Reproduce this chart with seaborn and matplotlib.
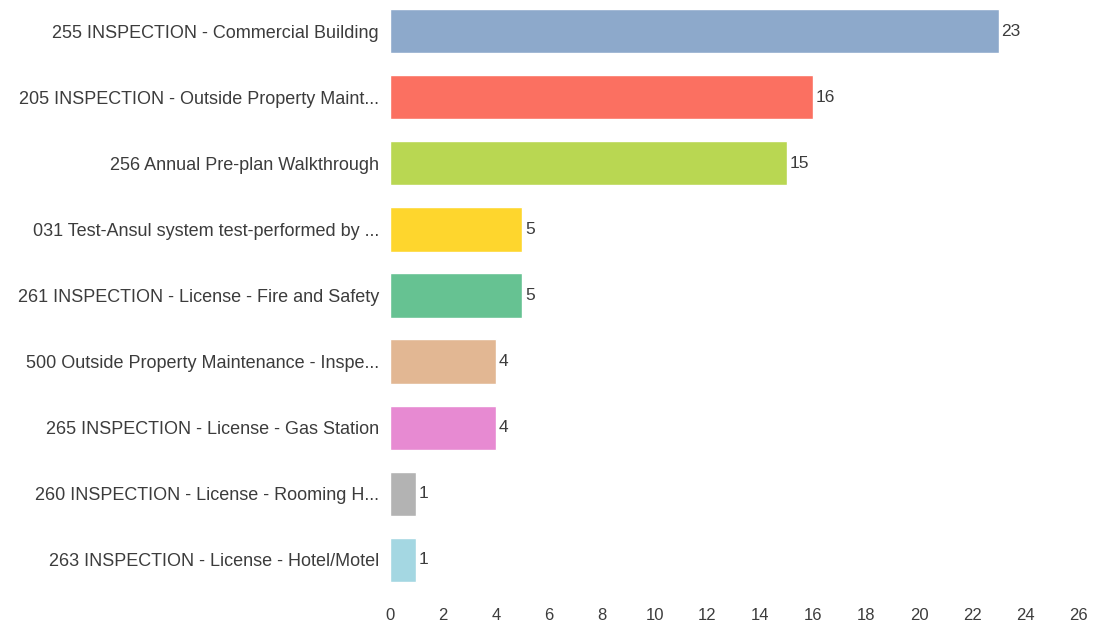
import matplotlib
matplotlib.use("Agg")
import matplotlib.pyplot as plt
import pandas as pd
import seaborn as sns

categories = [
    "255 INSPECTION - Commercial Building",
    "205 INSPECTION - Outside Property Maint...",
    "256 Annual Pre-plan Walkthrough",
    "031 Test-Ansul system test-performed by ...",
    "261 INSPECTION - License - Fire and Safety",
    "500 Outside Property Maintenance - Inspe...",
    "265 INSPECTION - License - Gas Station",
    "260 INSPECTION - License - Rooming H...",
    "263 INSPECTION - License - Hotel/Motel",
]
counts = [23, 16, 15, 5, 5, 4, 4, 1, 1]
colors = ["#8DA9CB", "#FB7061", "#B9D752", "#FED62D", "#66C292",
          "#E2B793", "#E78AD2", "#B3B3B3", "#A4D7E2"]
x_ticks = list(range(0, 28, 2))

df = pd.DataFrame({"category": categories, "count": counts})

sns.set_style("white")
plt.rcParams["font.family"] = ["Liberation Sans", "DejaVu Sans"]
text_color = "#3c3c3c"

fig = plt.figure(figsize=(10.94, 6.25), dpi=100)
ax = fig.add_axes([390 / 1094, 1 - 593 / 625, (1078 - 390) / 1094, 593 / 625])

sns.barplot(data=df, x="count", y="category", hue="category", palette=colors,
            legend=False, width=0.67, saturation=1, ax=ax)

for i, v in enumerate(counts):
    ax.text(v + 0.1, i, str(v), va="center", ha="left", fontsize=12.5, color=text_color)

ax.set_xlim(0, 26)
ax.set_ylim(8.5, -0.47)
ax.set_xticks(x_ticks)
ax.set_xlabel("")
ax.set_ylabel("")
ax.tick_params(axis="y", length=0, pad=8, labelsize=13, labelcolor=text_color)
ax.tick_params(axis="x", length=7, width=0.6, color="#d8d8d8", pad=4,
               labelsize=12, labelcolor=text_color, direction="out")
sns.despine(ax=ax, left=True, bottom=True)

fig.savefig("out.png", dpi=100)
